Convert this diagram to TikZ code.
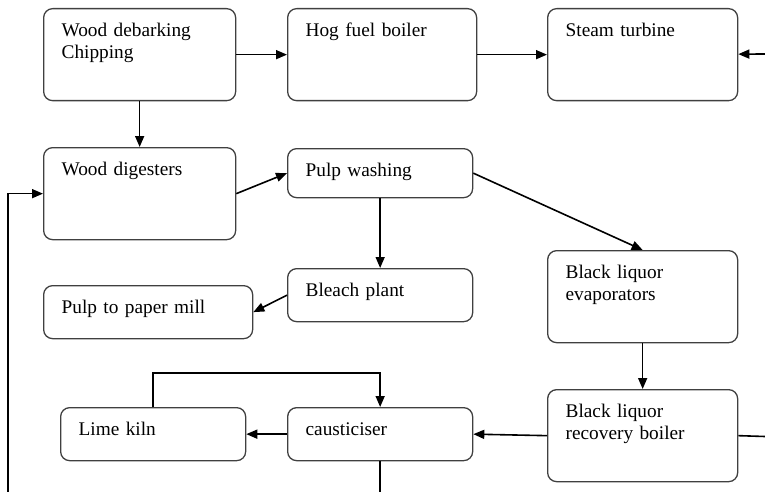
\documentclass[tikz,border=0pt]{standalone}
\usepackage{fontspec}
\setmainfont{Liberation Serif}
\usetikzlibrary{positioning, arrows.meta}

\tikzset{
  block/.style = {draw=black!75, line width=1.3pt, rounded corners=9pt, anchor=north west,
    align=left, inner xsep=18pt, inner ysep=14pt, text height=14pt, text width=#1-36pt,
    font=\fontsize{19.3}{22}\selectfont},
  block/.default = 185pt,
  tall/.style = {block=#1, text depth=50pt},
  tall/.default = 192pt,
  flat/.style = {block=#1, text depth=11pt},
  flat/.default = 185pt,
  flow/.style = {-{Triangle[length=11pt,width=9pt]}, line width=1.6pt},
  pipe/.style = {line width=1.6pt}
}

\begin{document}
\begin{tikzpicture}[x=1pt, y=-1pt]
        \useasboundingbox (0,0) rectangle (765,492);

            \node[tall] (1) at (43,8) {Wood debarking\\Chipping};
            \node[tall=189pt] (2) [right=50.7pt of 1] {Hog fuel boiler};
            \node[tall=190pt] (3) [right=69.7pt of 2] {Steam turbine};
            \node[tall] (4) [below=45.7pt of 1] {Wood digesters};
            \node[flat, text depth=7pt] (5) at (287,148) {Pulp washing};
            \node[flat] (6) at (287,268) {Bleach plant};
            \node[flat=209pt] (7) at (43,285) {Pulp to paper mill};
            \node[tall=190pt] (8) at (547,250) {Black liquor\\evaporators};
            \node[tall=190pt] (9) [below=45.7pt of 8] {Black liquor\\recovery boiler};
            \node[flat] (10) at (287,407) {causticiser};
            \node[flat] (11) at (60,407) {Lime kiln};

            % edges of the cut
            \coordinate (in) at (765,54);
            \coordinate (out) at (765,436.5);
            \coordinate (lift) at (8,492);

            \draw[flow] (1) -- (2);
            \draw[flow] (2) -- (3);
            \draw[flow] (in) -- (3);
            \draw[flow] (1) -- (4);
            \draw[flow] (4.east) -- (5.west);
            \draw[flow] (5) -- (6);
            \draw[flow] (5.east) -- (8.north);
            \draw[flow] (6.west) -- (7.east);
            \draw[flow] (8) -- (9);
            \draw[flow] (9.west) -- (10.east);
            \draw[flow] (10) -- (11);
            \draw[pipe] (9.east) -- (out);
            \draw[flow] (11.north) -- ++(0,-34) -| (10.north);
            \draw[pipe] (10.south) -- (10.south |- lift);
            \draw[flow] (lift) |- (4.west);

            \end{tikzpicture}
\end{document}
